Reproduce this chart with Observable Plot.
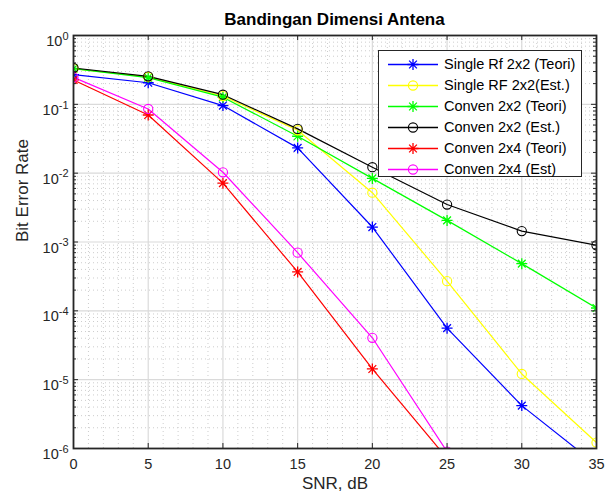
<!DOCTYPE html>
<html>
<head>
<meta charset="utf-8">
<script src="https://cdn.jsdelivr.net/npm/d3@7"></script>
<script src="https://cdn.jsdelivr.net/npm/@observablehq/plot@0.6"></script>
<style>
  html, body { margin: 0; padding: 0; background: #fff; }
  #wrap { position: relative; width: 606px; height: 496px; font-family: "Liberation Sans", Arial, sans-serif; }
  #title { position: absolute; left: 73px; width: 523px; top: 10px; line-height: 20px; text-align: center; font-weight: bold; font-size: 17px; color: #000; }
  #legend { position: absolute; left: 378px; top: 50px; width: 202px; height: 125px; border: 1px solid #262626; background: #fff; }
  .row { position: absolute; left: 0; height: 21px; width: 202px; }
  .row svg { position: absolute; left: 0; top: 0; }
  .row span { position: absolute; left: 65px; top: 1px; font-size: 14.5px; line-height: 19px; color: #000; white-space: nowrap; }
</style>
</head>
<body>
<div id="wrap">
  <div id="chart"></div>
  <div id="title"></div>
  <div id="legend"></div>
</div>
<script>
// ---- data ----
const snr = [0, 5, 10, 15, 20, 25, 30, 35];
const seriesNames = ["Single Rf 2x2 (Teori)", "Single RF 2x2(Est.)", "Conven 2x2 (Teori)", "Conven 2x2 (Est.)", "Conven 2x4 (Teori)", "Conven 2x4 (Est)"];
const seriesColors = ["#0000ff", "#ffff00", "#00ff00", "#000000", "#ff0000", "#ff00ff"];
const seriesMarkers = ["asterisk", "circle", "asterisk", "circle", "asterisk", "circle"];
const berSingleRfTeori = [0.27, 0.206, 0.096, 0.0233, 0.00165, 5.6e-5, 4.2e-6, 5.8e-7];
const berSingleRfEst   = [0.33, 0.25, 0.132, 0.042, 0.0052, 2.7e-4, 1.21e-5, 1.22e-6];
const berConven22Teori = [0.33, 0.245, 0.127, 0.0344, 0.0084, 0.00206, 4.85e-4, 1.1e-4];
const berConven22Est   = [0.337, 0.255, 0.138, 0.044, 0.0122, 0.0035, 0.00144, 8.95e-4];
const berConven24Teori = [0.226, 0.070, 0.00716, 3.67e-4, 1.43e-5, 7.2e-7, null, null];
const berConven24Est   = [0.246, 0.0857, 0.0103, 7.0e-4, 4.06e-5, 9.0e-7, null, null];
const xTicks = [0, 5, 10, 15, 20, 25, 30, 35];
const yExponents = [0, -1, -2, -3, -4, -5, -6];
const titleText = "Bandingan Dimensi Antena";
const xLabel = "SNR, dB";
const yLabel = "Bit Error Rate";

// ---- build table ----
const seriesValues = [berSingleRfTeori, berSingleRfEst, berConven22Teori, berConven22Est, berConven24Teori, berConven24Est];
const rows = [];
seriesValues.forEach((vals, s) => {
  vals.forEach((v, i) => {
    if (v != null) rows.push({snr: snr[i], ber: v, series: seriesNames[s], marker: seriesMarkers[s]});
  });
});

const W = 606, H = 496, ML = 73, MR = 10, MT = 35, MB = 48;
const yMajor = yExponents.map(e => Math.pow(10, e));
const yMinor = [];
yExponents.slice(1).forEach(e => { for (let k = 2; k <= 9; k++) yMinor.push(k * Math.pow(10, e)); });
const xMinor = d3.range(0, 36).filter(v => v % 5 !== 0);
const pxPerX = (W - ML - MR) / 35;
const pxPerDecade = (H - MT - MB) / 6;
const majLenX = 5 / pxPerX, minLenX = 3 / pxPerX;
const majFac = Math.pow(10, 5 / pxPerDecade);

const asteriskSymbol = {
  draw(ctx, size) {
    const r = Math.sqrt(size / Math.PI), d = r * Math.SQRT1_2;
    ctx.moveTo(-r, 0); ctx.lineTo(r, 0);
    ctx.moveTo(0, -r); ctx.lineTo(0, r);
    ctx.moveTo(-d, -d); ctx.lineTo(d, d);
    ctx.moveTo(-d, d); ctx.lineTo(d, -d);
  }
};

const axisColor = "#262626";
const gridColor = "#dadada";
const minorColor = "#cdcdcd";

const svg = Plot.plot({
  width: W, height: H,
  marginLeft: ML, marginRight: MR, marginTop: MT, marginBottom: MB,
  style: {fontFamily: "'Liberation Sans', Arial, sans-serif", color: axisColor, background: "white", overflow: "visible"},
  x: {domain: [0, 35]},
  y: {type: "log", domain: [1e-6, 1]},
  color: {domain: seriesNames, range: seriesColors},
  marks: [
    Plot.ruleX(xMinor, {stroke: minorColor, strokeDasharray: "1,3", strokeWidth: 1}),
    Plot.ruleY(yMinor, {stroke: minorColor, strokeDasharray: "1,3", strokeWidth: 1}),
    Plot.ruleX(xTicks, {stroke: gridColor, strokeWidth: 1.2}),
    Plot.ruleY(yMajor, {stroke: gridColor, strokeWidth: 1.2}),
    Plot.line(rows, {x: "snr", y: "ber", z: "series", stroke: "series", strokeWidth: 1.2, clip: true}),
    Plot.dot(rows.filter(d => d.marker === "asterisk"), {x: "snr", y: "ber", stroke: "series", symbol: asteriskSymbol, r: 5.5, fill: "none", strokeWidth: 1.3, clip: true}),
    Plot.dot(rows.filter(d => d.marker === "circle"), {x: "snr", y: "ber", stroke: "series", symbol: "circle", r: 4.6, fill: "none", strokeWidth: 1.1, clip: true}),
    // inward ticks
    Plot.ruleY(yMajor, {x1: 0, x2: majLenX, stroke: axisColor}),
    Plot.ruleY(yMajor, {x1: 35 - majLenX, x2: 35, stroke: axisColor}),
    Plot.ruleY(yMinor, {x1: 0, x2: minLenX, stroke: axisColor}),
    Plot.ruleY(yMinor, {x1: 35 - minLenX, x2: 35, stroke: axisColor}),
    Plot.ruleX(xTicks, {y1: 1e-6, y2: 1e-6 * majFac, stroke: axisColor}),
    Plot.ruleX(xTicks, {y1: 1 / majFac, y2: 1, stroke: axisColor}),
    Plot.frame({stroke: axisColor, strokeWidth: 1.8}),
    Plot.axisX(xTicks, {tickSize: 0, tickPadding: 10, fontSize: 14.5, label: null, tickFormat: d => String(d)}),
    Plot.axisY(yMajor, {tickSize: 0, tickPadding: 5, fontSize: 14.5, label: null, dy: 6, tickFormat: d => String(Math.round(Math.log10(d)))}),
    Plot.text([xLabel], {frameAnchor: "bottom", dy: 40, fontSize: 17, fill: axisColor}),
    Plot.text([yLabel], {frameAnchor: "left", dx: -51, rotate: -90, fontSize: 17, fill: axisColor})
  ]
});

// superscript exponents on y tick labels
d3.select(svg).selectAll('g[aria-label="y-axis tick label"] text').each(function () {
  const t = d3.select(this);
  const e = t.text();
  t.text("10");
  t.append("tspan").attr("font-size", 11).attr("dy", "-0.58em").text(e);
});

document.getElementById("chart").appendChild(svg);
document.getElementById("title").textContent = titleText;

// legend
const legend = document.getElementById("legend");
seriesNames.forEach((name, i) => {
  const row = document.createElement("div");
  row.className = "row";
  row.style.top = (3 + i * 21) + "px";
  const s = d3.create("svg").attr("width", 62).attr("height", 21);
  s.append("line").attr("x1", 9).attr("x2", 59).attr("y1", 10.5).attr("y2", 10.5)
    .attr("stroke", seriesColors[i]).attr("stroke-width", 1.6);
  if (seriesMarkers[i] === "asterisk") {
    s.append("path").attr("transform", "translate(34,10.5)")
      .attr("d", d3.symbol().type(asteriskSymbol).size(Math.PI * 5.5 * 5.5)())
      .attr("fill", "none").attr("stroke", seriesColors[i]).attr("stroke-width", 1.3);
  } else {
    s.append("circle").attr("cx", 34).attr("cy", 10.5).attr("r", 4.6)
      .attr("fill", "none").attr("stroke", seriesColors[i]).attr("stroke-width", 1.1);
  }
  row.appendChild(s.node());
  const span = document.createElement("span");
  span.textContent = name;
  row.appendChild(span);
  legend.appendChild(row);
});
</script>
</body>
</html>
